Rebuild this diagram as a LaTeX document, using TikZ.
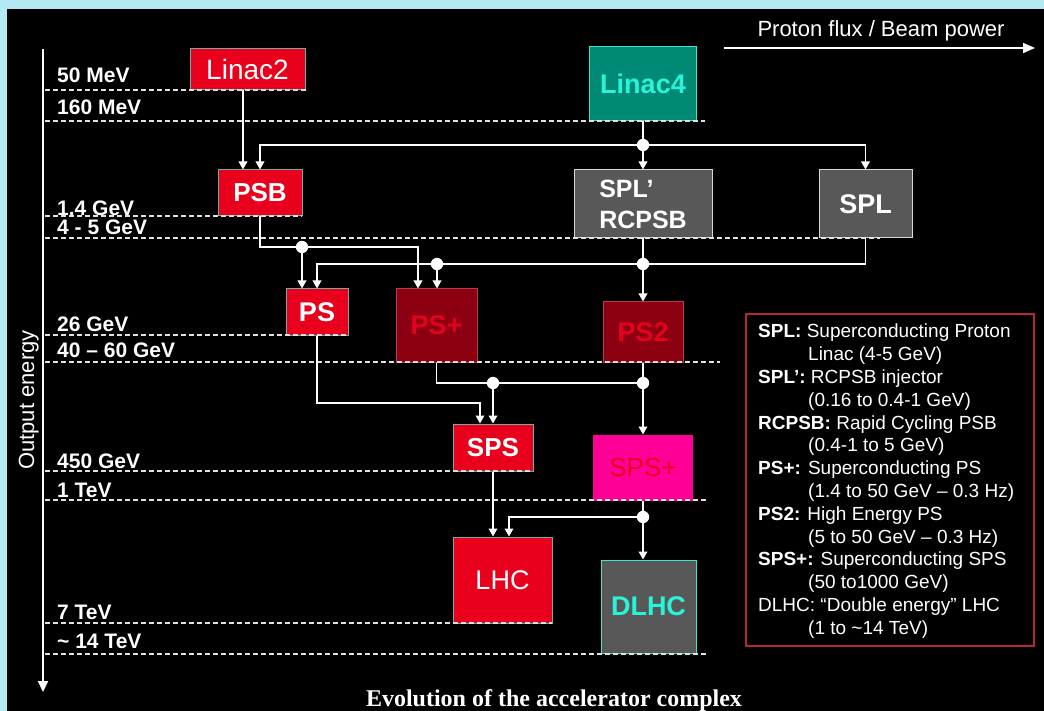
\documentclass[tikz,border=0pt]{standalone}
\usepackage{fontspec}
\setmainfont{Liberation Sans}
\newfontfamily\capfont{Liberation Serif}
\usetikzlibrary{arrows.meta}
\definecolor{frameblue}{RGB}{180,232,242}
\definecolor{boxred}{RGB}{232,0,28}
\definecolor{redline}{RGB}{110,175,165}
\definecolor{tealfill}{RGB}{0,138,118}
\definecolor{tealline}{RGB}{60,230,200}
\definecolor{cyantext}{RGB}{40,245,215}
\definecolor{grayfill}{RGB}{88,88,88}
\definecolor{grayline}{RGB}{215,215,215}
\definecolor{darkred}{RGB}{140,0,18}
\definecolor{darkredline}{RGB}{180,60,80}
\definecolor{redtext}{RGB}{228,0,30}
\definecolor{magentafill}{RGB}{255,0,150}
\definecolor{dashgray}{RGB}{225,225,225}
\definecolor{legendline}{RGB}{180,40,55}
\begin{document}
\begin{tikzpicture}[x=1pt,y=-1pt,
  box/.style={rectangle, inner sep=0pt, line width=1pt, align=center},
  redbox/.style={box, fill=boxred, draw=redline, text=white},
  tealbox/.style={box, fill=tealfill, draw=tealline, text=cyantext},
  graybox/.style={box, fill=grayfill, draw=grayline, text=white},
  dredbox/.style={box, fill=darkred, draw=darkredline, text=redtext},
  magbox/.style={box, fill=magentafill, draw=magentafill, text=redtext},
  dlhcbox/.style={box, fill=grayfill, draw=tealline, text=cyantext},
  bfont/.style={font=\bfseries\fontsize{#1}{#1}\selectfont},
  rfont/.style={font=\fontsize{#1}{#1}\selectfont},
  conn/.style={draw=white, line width=1.8pt},
  arr/.style={conn, -{Triangle[length=8pt,width=8.5pt]}},
  lvl/.style={draw=dashgray, line width=2.2pt, dash pattern=on 5pt off 3pt},
  elabel/.style={anchor=base west, text=white, inner sep=0pt, font=\bfseries\fontsize{21}{25}\selectfont},
]
% background
\fill[frameblue] (0,0) rectangle (1044,711);
\fill[black] (7,9) rectangle (1044,711);
\useasboundingbox (0,0) rectangle (1044,711);

% boxes
\node[redbox, rfont=28, minimum width=115, minimum height=41] (linac2) at (247.5,69.5) {Linac2};
\node[tealbox, bfont=27, minimum width=107, minimum height=74] (linac4) at (643,84) {Linac4};
\node[redbox, bfont=26, minimum width=84, minimum height=46] (psb) at (260,193) {PSB};
\node[graybox, font=\bfseries\fontsize{25}{31}\selectfont, align=left, minimum width=138, minimum height=68] (spl1) at (643,204) {SPL’\\RCPSB};
\node[graybox, bfont=27, minimum width=93, minimum height=68] (spl) at (865.5,204) {SPL};
\node[redbox, bfont=27, minimum width=62, minimum height=46] (ps) at (317,312) {PS};
\node[dredbox, bfont=27, minimum width=81, minimum height=73] (psp) at (436.5,325.5) {PS+};
\node[dredbox, bfont=27, minimum width=80, minimum height=60] (ps2) at (643,332) {PS2};
\node[redbox, bfont=26, minimum width=80, minimum height=47] (sps) at (493,447.5) {SPS};
\node[magbox, rfont=26, minimum width=99, minimum height=65] (spsp) at (643,467.5) {SPS+};
\node[redbox, rfont=27, minimum width=99, minimum height=86] (lhc) at (502.5,580) {LHC};
\node[dlhcbox, bfont=27, minimum width=95, minimum height=93] (dlhc) at (648.5,606.5) {DLHC};

% energy levels
\draw[lvl] (45,90) -- (308,90);
\draw[lvl] (45,121) -- (705,121);
\draw[lvl] (45,216) -- (302,216);
\draw[lvl] (45,238) -- (880,238);
\draw[lvl] (45,335) -- (348,335);
\draw[lvl] (45,362) -- (720,362);
\draw[lvl] (45,471) -- (533,471);
\draw[lvl] (45,500) -- (707,500);
\draw[lvl] (45,623) -- (552,623);
\draw[lvl] (45,654) -- (707,654);

\node[elabel] (e1) at (57,83) {50 MeV};
\node[elabel] (e2) at (57,115) {160 MeV};
\node[elabel] (e3) at (57,216) {1.4 GeV};
\node[elabel] (e4) at (57,235) {4 - 5 GeV};
\node[elabel] (e5) at (57,331) {26 GeV};
\node[elabel] (e6) at (57,357) {40 – 60 GeV};
\node[elabel] (e7) at (57,468) {450 GeV};
\node[elabel] (e8) at (57,497) {1 TeV};
\node[elabel] (e9) at (57,619) {7 TeV};
\node[elabel] (e10) at (57,648) {\textasciitilde{} 14 TeV};

% axis
\coordinate (ax0) at (43,49);
\coordinate (ax1) at (43,692);
\draw[white, line width=2pt, -{Triangle[length=11pt,width=10pt]}] (ax0) -- (ax1);
\node[rotate=90, anchor=base, text=white, inner sep=0pt, rfont=22] (outen) at (34,400) {Output energy};

% flux arrow
\coordinate (fs) at (724,48);
\coordinate (fe) at (1035,48);
\draw[white, line width=1.8pt, -{Triangle[length=12pt,width=10pt]}] (fs) -- (fe);
\node[anchor=base, text=white, inner sep=0pt, rfont=22] (flux) at (881,37) {Proton flux / Beam power};

% junctions
\coordinate (j1) at (643,145);
\coordinate (j2) at (302,247);
\coordinate (j3) at (437,264);
\coordinate (j4) at (643,264);
\coordinate (j5) at (493,383);
\coordinate (j6) at (643,383);
\coordinate (j7) at (643,517);

% connectors
\draw[arr] (243,0 |- linac2.south) -- (243,0 |- psb.north);
\draw[conn] (linac4.south) -- (j1);
\draw[arr] (j1) -- (j1 |- spl1.north);
\draw[arr] (j1) -| (psb.north);
\draw[arr] (j1) -| (spl.north);
\draw[conn] (psb.south) |- (j2);
\draw[arr] (j2) -| (418,0 |- psp.north);
\draw[arr] (j2) -- (j2 |- ps.north);
\draw[arr] (spl.south) |- (317,264) -- (317,0 |- ps.north);
\draw[arr] (j3) -- (j3 |- psp.north);
\draw[conn] (spl1.south) -- (j4);
\draw[arr] (j4) -- (j4 |- ps2.north);
\draw[arr] (ps.south) |- (480,403) -- (480,0 |- sps.north);
\draw[conn] (psp.south) |- (j6);
\draw[arr] (j5) -- (j5 |- sps.north);
\draw[conn] (ps2.south) -- (j6);
\draw[arr] (j6) -- (j6 |- spsp.north);
\draw[arr] (sps.south) -- (sps.south |- lhc.north);
\draw[conn] (spsp.south) -- (j7);
\draw[arr] (j7) -- (j7 |- dlhc.north);
\draw[arr] (j7) -| (509,0 |- lhc.north);

\foreach \j in {j1,j2,j3,j4,j5,j6,j7} \fill[white] (\j) circle (6.2pt);

% legend
\node[draw=legendline, line width=1.5pt, minimum width=288, minimum height=332, inner sep=0pt] (legend) at (890,480) {};
\node[anchor=north west, inner sep=0pt, align=left, text=white, font=\fontsize{19}{22.8}\selectfont] (legendtext) at (758,324) {%
\textbf{SPL:} Superconducting Proton\\
\hspace*{50pt}Linac (4-5 GeV)\\
\textbf{SPL’:} RCPSB injector\\
\hspace*{50pt}(0.16 to 0.4-1 GeV)\\
\textbf{RCPSB:} Rapid Cycling PSB\\
\hspace*{50pt}(0.4-1 to 5 GeV)\\
\textbf{PS+:} Superconducting PS\\
\hspace*{50pt}(1.4 to 50 GeV – 0.3 Hz)\\
\textbf{PS2:} High Energy PS\\
\hspace*{50pt}(5 to 50 GeV – 0.3 Hz)\\
\textbf{SPS+:} Superconducting SPS\\
\hspace*{50pt}(50 to1000 GeV)\\
DLHC: “Double energy” LHC\\
\hspace*{50pt}(1 to \textasciitilde14 TeV)};

% caption
\node[anchor=base, text=white, inner sep=0pt, font=\capfont\bfseries\fontsize{24}{28}\selectfont] (caption) at (554,706) {Evolution of the accelerator complex};
\end{tikzpicture}
\end{document}
